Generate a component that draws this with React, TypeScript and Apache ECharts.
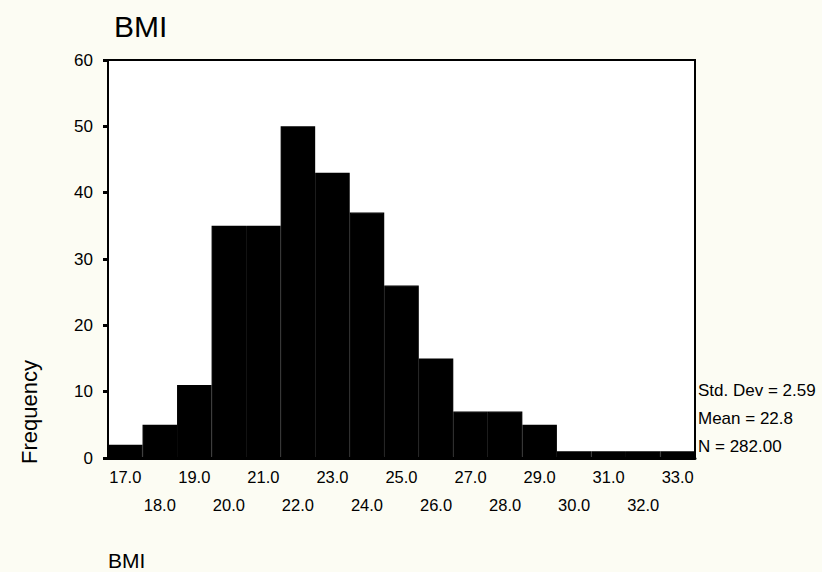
import React, { useEffect, useRef } from "react";
import * as echarts from "echarts";

const categories = ["17.0","18.0","19.0","20.0","21.0","22.0","23.0","24.0","25.0","26.0","27.0","28.0","29.0","30.0","31.0","32.0","33.0"];
const frequencies = [2, 5, 11, 35, 35, 50, 43, 37, 26, 15, 7, 7, 5, 1, 1, 1, 1];
const yTicks = { min: 0, max: 60, interval: 10 };
const statsLines = ["Std. Dev = 2.59", "Mean = 22.8", "N = 282.00"];

const FONT = "'Liberation Sans', Arial, sans-serif";
const INK = "#000";

export default function App() {
  const ref = useRef<HTMLDivElement>(null);
  useEffect(() => {
    if (!ref.current) return;
    const chart = echarts.init(ref.current, undefined, { renderer: "svg" });
    chart.setOption({
      animation: false,
      backgroundColor: "#fcfcf3",
      textStyle: { fontFamily: FONT, color: INK },
      title: {
        text: "BMI",
        left: 109,
        top: 6,
        textStyle: { fontFamily: FONT, fontSize: 30, fontWeight: "normal", color: INK },
      },
      grid: {
        left: 108,
        right: 127,
        top: 60,
        bottom: 114,
        show: true,
        backgroundColor: "#ffffff",
        borderColor: "#000",
        borderWidth: 2,
      },
      xAxis: {
        type: "category",
        data: categories,
        boundaryGap: true,
        axisLine: { lineStyle: { color: "#000", width: 3 } },
        axisTick: { alignWithLabel: true, length: 4, lineStyle: { color: "#000", width: 3 } },
        axisLabel: {
          interval: 0,
          margin: 5,
          lineHeight: 28,
          fontSize: 16.5,
          color: INK,
          fontFamily: FONT,
          formatter: (v: string, i: number) => (i % 2 === 1 ? "\n" + v : v),
        },
        splitLine: { show: false },
      },
      yAxis: {
        type: "value",
        min: yTicks.min,
        max: yTicks.max,
        interval: yTicks.interval,
        axisLine: { show: true, lineStyle: { color: "#000", width: 2 } },
        axisTick: { show: true, length: 5, lineStyle: { color: "#000", width: 3 } },
        axisLabel: { margin: 15, fontSize: 17, color: INK, fontFamily: FONT },
        splitLine: { show: false },
      },
      series: [
        {
          type: "bar",
          data: frequencies,
          barCategoryGap: "0%",
          itemStyle: { color: "#000", borderColor: "#000", borderWidth: 1.2 },
        },
      ],
      graphic: [
        ...statsLines.map((t, i) => ({
          type: "text",
          x: 698,
          y: 390 + i * 28,
          style: { text: t, fontSize: 17, fontFamily: FONT, fill: INK, textVerticalAlign: "middle" },
        })),
        {
          type: "text",
          x: 108,
          y: 560,
          style: { text: "BMI", fontSize: 21, fontFamily: FONT, fill: INK, textVerticalAlign: "middle" },
        },
        {
          type: "text",
          x: 29,
          y: 412,
          rotation: Math.PI / 2,
          style: {
            text: "Frequency",
            fontSize: 22,
            fontFamily: FONT,
            fill: INK,
            textAlign: "center",
            textVerticalAlign: "middle",
          },
        },
      ],
    });
    return () => chart.dispose();
  }, []);
  return (
    <div
      ref={ref}
      style={{ position: "fixed", left: 0, top: 0, width: 822, height: 572 }}
    />
  );
}
